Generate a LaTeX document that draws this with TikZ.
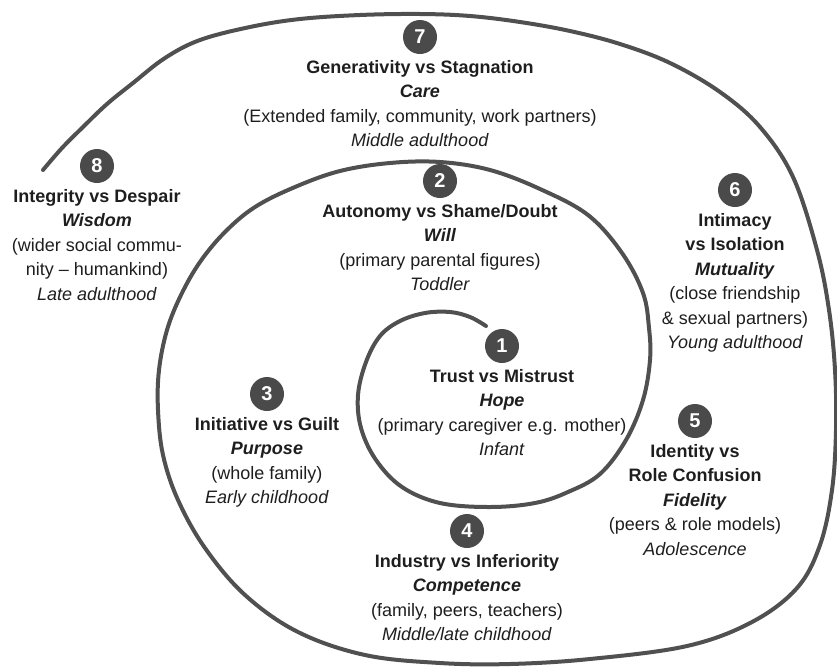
\documentclass[tikz,border=0pt]{standalone}
\usepackage{fontspec}
\setmainfont{Liberation Sans}
\usetikzlibrary{positioning}

\definecolor{spiralgray}{HTML}{505050}
\definecolor{badgegray}{HTML}{4A4A4A}
\definecolor{textgray}{HTML}{1E1E1E}

\tikzset{
    badge/.style={circle, fill=badgegray, text=white, minimum size=34pt, inner sep=0pt, font=\fontsize{20}{20}\selectfont\bfseries},
    stagetext/.style={align=center, inner sep=0pt, text=textgray, font=\fontsize{18}{24.5}\selectfont},
    spiralline/.style={line width=4pt, draw=spiralgray, line cap=round}
}

\def\stage#1#2#3#4{ % #1 Name, #2 Badge center, #3 Number, #4 Lines
    \node[badge] (#1) at (#2) {#3};
    \node[stagetext, below=6pt of #1] (#1text) {#4};
}

\begin{document}
\begin{tikzpicture}[x=1pt, y=-1pt]
        \useasboundingbox (0,0) rectangle (837,667);

        % spiral
        \draw[spiralline] plot[smooth, tension=0.6] coordinates {
            (486,326) (470,317) (450,312) (425,313) (400,321) (380,336) (366,362) (358,395)
            (361,428) (376,460) (402,487) (440,503) (490,507) (535,503) (568,492) (600,474)
            (626,440) (643,400) (650,360) (649,328) (643,293) (622,253) (588,215) (540,189)
            (490,170) (440,162) (390,163) (340,171) (295,187) (255,207) (225,232) (200,262)
            (181,295) (167,330) (159,370) (158,410) (163,455) (178,500) (205,548) (245,595)
            (298,632) (365,655) (440,663) (510,664) (590,659) (687,646) (752,622) (797,588)
            (820,545) (832,490) (836,430) (835,370) (829,310) (817,250) (793,177) (760,127)
            (720,92) (670,63) (620,44) (570,31) (520,22) (470,16) (420,14) (360,15)
            (300,19) (250,27) (200,40) (165,58) (133,83) (107,104) (83,127) (62,148) (43,170)};

        % 1
        \stage{trust}{502,346}{1}{\textbf{Trust vs Mistrust}\\\textbf{\textit{Hope}}\\(primary caregiver e.g. mother)\\\textit{Infant}}
        % 2
        \stage{autonomy}{440,181}{2}{\textbf{Autonomy vs Shame/Doubt}\\\textbf{\textit{Will}}\\(primary parental figures)\\\textit{Toddler}}
        % 3
        \stage{initiative}{267,394}{3}{\textbf{Initiative vs Guilt}\\\textbf{\textit{Purpose}}\\(whole family)\\\textit{Early childhood}}
        % 4
        \stage{industry}{467,531}{4}{\textbf{Industry vs Inferiority}\\\textbf{\textit{Competence}}\\(family, peers, teachers)\\\textit{Middle/late childhood}}
        % 5
        \stage{identity}{695,421}{5}{\textbf{Identity vs}\\\textbf{Role Confusion}\\\textbf{\textit{Fidelity}}\\(peers \& role models)\\\textit{Adolescence}}
        % 6
        \stage{intimacy}{735,190}{6}{\textbf{Intimacy}\\\textbf{vs Isolation}\\\textbf{\textit{Mutuality}}\\(close friendship\\\& sexual partners)\\\textit{Young adulthood}}
        % 7
        \stage{generativity}{420,37}{7}{\textbf{Generativity vs Stagnation}\\\textbf{\textit{Care}}\\(Extended family, community, work partners)\\\textit{Middle adulthood}}
        % 8
        \stage{integrity}{97,166}{8}{\textbf{Integrity vs Despair}\\\textbf{\textit{Wisdom}}\\(wider social commu-\\nity – humankind)\\\textit{Late adulthood}}
\end{tikzpicture}
\end{document}
